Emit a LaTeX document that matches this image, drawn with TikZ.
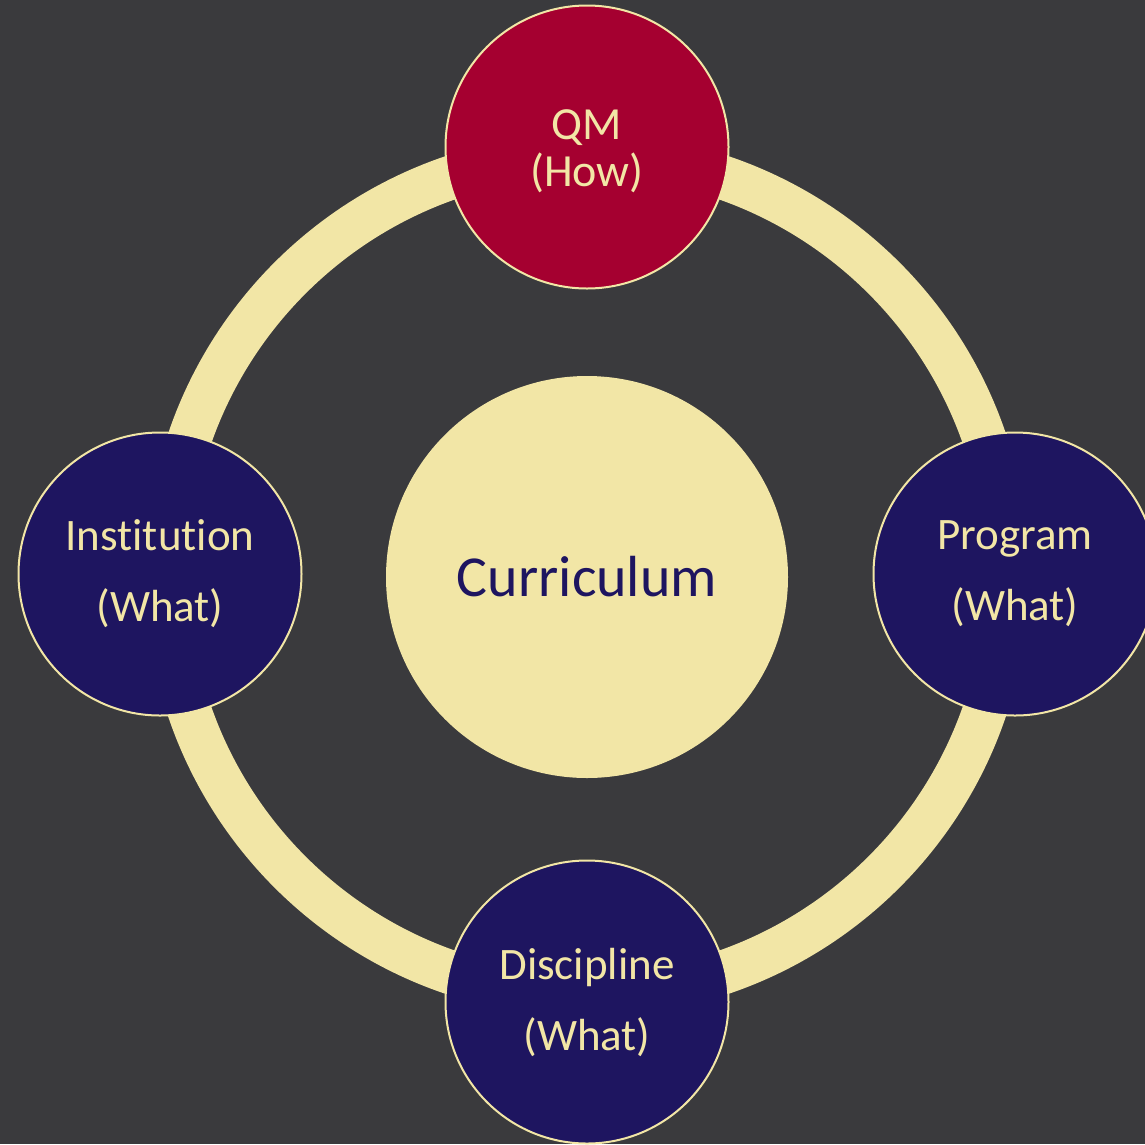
\documentclass[tikz,border=0pt]{standalone}
\usepackage{fontspec}
\setmainfont{Carlito}[Ligatures={NoCommon}]
\definecolor{bgc}{HTML}{3A3A3D}
\definecolor{cream}{HTML}{F2E6A6}
\definecolor{qmred}{HTML}{A50030}
\definecolor{navy}{HTML}{1E1560}
\begin{document}
\begin{tikzpicture}[x=1pt,y=-1pt,
  outer/.style={circle,draw=cream,line width=2pt,minimum size=283pt,inner sep=0pt,text=cream,align=center},
  whatnode/.style={outer,fill=navy,font=\fontsize{45}{71}\selectfont},
  hownode/.style={outer,fill=qmred},
  howtext/.style={text=cream,align=center,font=\fontsize{46}{47}\selectfont},
  centernode/.style={circle,fill=cream,minimum size=402pt,inner sep=0pt,text=navy,font=\fontsize{58}{64}\selectfont}]
\fill[bgc] (0,0) rectangle (1145,1144);
\useasboundingbox (0,0) rectangle (1145,1144);
\coordinate (ringc) at (587,575);
\draw[cream,line width=44pt] (ringc) circle[radius=420pt];
\node[centernode] (cur) at (587,577) {Curriculum};
\node[hownode] (qm) at (587,147) {};
\node[howtext,yshift=-4pt] (qmtext) at (qm.center) {QM\\(How)};
\node[whatnode] (inst) at (160,574) {Institution\\(What)};
\node[whatnode] (prog) at (1015,574) {Program\\(What)};
\node[whatnode] (disc) at (587,1002) {Discipline\\(What)};
\end{tikzpicture}
\end{document}
